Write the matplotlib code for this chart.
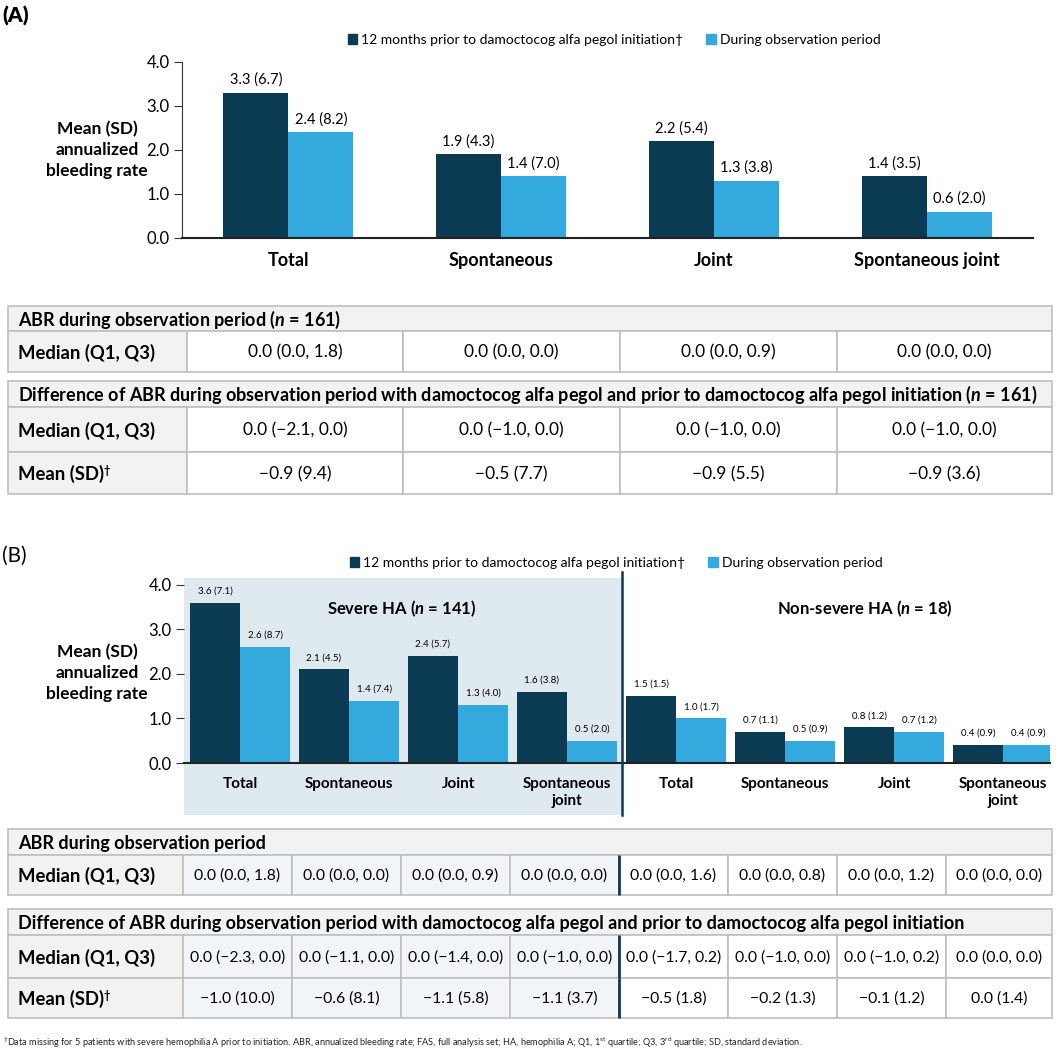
import matplotlib.pyplot as plt
from matplotlib.patches import Rectangle, Patch
import numpy as np

plt.rcParams['font.family'] = ['Lato', 'DejaVu Sans']
plt.rcParams['mathtext.fontset'] = 'custom'
plt.rcParams['mathtext.rm'] = 'Lato'
plt.rcParams['mathtext.it'] = 'Lato:italic:bold'

DARK = '#0b3b52'
LIGHT = '#33a9dd'
SHADE = '#dfe9f0'
LINE = '#bfbfbf'
HEAD = '#f2f2f2'
SEV = '#f1f5f8'

# ---- data: panel A
cats_a = ['Total', 'Spontaneous', 'Joint', 'Spontaneous joint']
prior_a = [3.3, 1.9, 2.2, 1.4]
prior_sd_a = [6.7, 4.3, 5.4, 3.5]
obs_a = [2.4, 1.4, 1.3, 0.6]
obs_sd_a = [8.2, 7.0, 3.8, 2.0]
median_a = ['0.0 (0.0, 1.8)', '0.0 (0.0, 0.0)', '0.0 (0.0, 0.9)', '0.0 (0.0, 0.0)']
diff_median_a = ['0.0 (−2.1, 0.0)', '0.0 (−1.0, 0.0)', '0.0 (−1.0, 0.0)', '0.0 (−1.0, 0.0)']
diff_mean_a = ['−0.9 (9.4)', '−0.5 (7.7)', '−0.9 (5.5)', '−0.9 (3.6)']

# ---- data: panel B (first 4 = severe, last 4 = non-severe)
cats_b = ['Total', 'Spontaneous', 'Joint', 'Spontaneous\njoint'] * 2
prior_b = [3.6, 2.1, 2.4, 1.6, 1.5, 0.7, 0.8, 0.4]
prior_sd_b = [7.1, 4.5, 5.7, 3.8, 1.5, 1.1, 1.2, 0.9]
obs_b = [2.6, 1.4, 1.3, 0.5, 1.0, 0.5, 0.7, 0.4]
obs_sd_b = [8.7, 7.4, 4.0, 2.0, 1.7, 0.9, 1.2, 0.9]
median_b = ['0.0 (0.0, 1.8)', '0.0 (0.0, 0.0)', '0.0 (0.0, 0.9)', '0.0 (0.0, 0.0)',
            '0.0 (0.0, 1.6)', '0.0 (0.0, 0.8)', '0.0 (0.0, 1.2)', '0.0 (0.0, 0.0)']
diff_median_b = ['0.0 (−2.3, 0.0)', '0.0 (−1.1, 0.0)', '0.0 (−1.4, 0.0)', '0.0 (−1.0, 0.0)',
                 '0.0 (−1.7, 0.2)', '0.0 (−1.0, 0.0)', '0.0 (−1.0, 0.2)', '0.0 (0.0, 0.0)']
diff_mean_b = ['−1.0 (10.0)', '−0.6 (8.1)', '−1.1 (5.8)', '−1.1 (3.7)',
               '−0.5 (1.8)', '−0.2 (1.3)', '−0.1 (1.2)', '0.0 (1.4)']

leg_labels = ['12 months prior to damoctocog alfa pegol initiation†', 'During observation period']
ylab = 'Mean (SD)\nannualized\nbleeding rate'

W, H = 1064, 1050
fig = plt.figure(figsize=(W / 100, H / 100), dpi=100)

# background axes in pixel coordinates for layout (tables, titles)
bg = fig.add_axes([0, 0, 1, 1])
bg.set_xlim(0, W)
bg.set_ylim(H, 0)
bg.axis('off')


def px_axes(left, top, right, bottom):
    ax = fig.add_axes([left / W, 1 - bottom / H, (right - left) / W, (bottom - top) / H])
    ax.patch.set_visible(False)
    return ax


def style_axis(ax, ylim):
    ax.set_ylim(*ylim)
    ax.set_yticks(np.arange(0, 5))
    ax.set_yticklabels([f'{v:.1f}' for v in range(5)], fontsize=12)
    ax.tick_params(axis='y', length=6, color='#333333', pad=3)
    ax.tick_params(axis='x', length=0)
    for s in ['top', 'right']:
        ax.spines[s].set_visible(False)
    ax.spines['bottom'].set_color('#222222')
    ax.spines['left'].set_color('#333333')
    ax.spines['bottom'].set_linewidth(1.5)


def legend_at(cx, cy):
    handles = [Patch(color=DARK), Patch(color=LIGHT)]
    fig.legend(handles, leg_labels, loc='center', bbox_to_anchor=(cx / W, 1 - cy / H),
               ncol=2, frameon=False, fontsize=10, handlelength=0.7, handleheight=0.7,
               handletextpad=0.3, columnspacing=1.6, borderpad=0)


def dagger_label(x, y, text, size):
    t = bg.text(x, y, text, fontsize=size, fontweight='bold', va='center', ha='left')
    bg.annotate('†', xy=(1, 1), xycoords=t, fontsize=size * 0.6, fontweight='bold',
                va='top', ha='left')


def table(top, header, head_h, rows, edges, fills, sep=None, vsize=12.5):
    x0, x1 = edges[0], edges[-1]
    bg.add_patch(Rectangle((x0, top), x1 - x0, head_h, fc=HEAD, ec=LINE, lw=1.2))
    bg.text(x0 + 10, top + head_h / 2 + 1, header, fontsize=13, fontweight='bold', va='center')
    y = top + head_h
    for label, vals, rh in rows:
        bg.add_patch(Rectangle((x0, y), edges[1] - x0, rh, fc=HEAD, ec=LINE, lw=1.2))
        if label.endswith('†'):
            dagger_label(x0 + 10, y + rh / 2 + 1, label[:-1], 13.3)
        else:
            bg.text(x0 + 10, y + rh / 2 + 1, label, fontsize=13.3, fontweight='bold', va='center')
        for i, v in enumerate(vals):
            a, b = edges[i + 1], edges[i + 2]
            bg.add_patch(Rectangle((a, y), b - a, rh, fc=fills[i], ec=LINE, lw=1.2))
            bg.text((a + b) / 2, y + rh / 2 + 1, v, fontsize=vsize, ha='center', va='center')
        if sep is not None:
            bg.plot([sep, sep], [y, y + rh], color=DARK, lw=2, solid_capstyle='butt')
        y += rh


# ================= Panel A =================
bg.text(2, 16, '(A)', fontsize=15, fontweight='heavy', va='center')
legend_at(614, 40)

axA = px_axes(182, 62, 1033, 238)
xa = np.arange(len(cats_a))
wa = 0.305
axA.bar(xa - wa / 2, prior_a, wa, color=DARK, zorder=2)
axA.bar(xa + wa / 2, obs_a, wa, color=LIGHT, zorder=2)
for i in range(len(cats_a)):
    axA.text(xa[i] - wa / 2, prior_a[i] + 0.13, f'{prior_a[i]:.1f} ({prior_sd_a[i]:.1f})',
             ha='center', va='bottom', fontsize=10.5)
    axA.text(xa[i] + wa / 2, obs_a[i] + 0.13, f'{obs_a[i]:.1f} ({obs_sd_a[i]:.1f})',
             ha='center', va='bottom', fontsize=10.5)
axA.set_xlim(-0.5, len(cats_a) - 0.5)
style_axis(axA, (0, 4))
axA.set_xticks(xa)
axA.set_xticklabels(cats_a, fontsize=13, fontweight='bold')
axA.tick_params(axis='x', pad=10)
bg.text(97, 150, ylab, fontsize=12.5, fontweight='bold', ha='center', va='center',
        multialignment='center', linespacing=1.35)

colA = [8, 187, 403, 620, 837, 1052]
table(306, 'ABR during observation period ($n$ = 161)', 25,
      [('Median (Q1, Q3)', median_a, 41)], colA, ['white'] * 4)
table(381, 'Difference of ABR during observation period with damoctocog alfa pegol and prior to '
      'damoctocog alfa pegol initiation ($n$ = 161)', 26,
      [('Median (Q1, Q3)', diff_median_a, 45), ('Mean (SD)†', diff_mean_a, 42)],
      colA, ['white'] * 4)

# ================= Panel B =================
bg.text(2, 556, '(B)', fontsize=15, va='center')
legend_at(616, 563)

axB = px_axes(184, 578, 1050, 763)
xb = np.arange(len(cats_b))
wb = 0.46
below = (815 - 763) / 185
axB.axvspan(-0.514, 3.5, ymin=-below, ymax=1, color=SHADE, zorder=0, clip_on=False, lw=0)
axB.axvline(3.5, ymin=-below, ymax=1 + 6 / 185, color=DARK, lw=1.8, clip_on=False, zorder=3)
axB.bar(xb - wb / 2, prior_b, wb, color=DARK, zorder=2)
axB.bar(xb + wb / 2, obs_b, wb, color=LIGHT, zorder=2)
for i in range(len(cats_b)):
    axB.text(xb[i] - wb / 2, prior_b[i] + 0.16, f'{prior_b[i]:.1f} ({prior_sd_b[i]:.1f})',
             ha='center', va='bottom', fontsize=7)
    axB.text(xb[i] + wb / 2, obs_b[i] + 0.16, f'{obs_b[i]:.1f} ({obs_sd_b[i]:.1f})',
             ha='center', va='bottom', fontsize=7)
axB.set_xlim(-0.514, 7.43)
style_axis(axB, (0, 4.15))
axB.spines['left'].set_visible(False)
axB.set_xticks(xb)
axB.set_xticklabels(cats_b, fontsize=11, fontweight='bold', linespacing=1.3)
axB.tick_params(axis='x', pad=10)
axB.text(402, 609, 'Severe HA ($n$ = 141)', fontsize=12, fontweight='bold', ha='center',
         va='center', transform=bg.transData, zorder=5)
axB.text(865, 609, 'Non-severe HA ($n$ = 18)', fontsize=12, fontweight='bold', ha='center',
         va='center', transform=bg.transData, zorder=5)
bg.text(97, 673, ylab, fontsize=12.5, fontweight='bold', ha='center', va='center',
        multialignment='center', linespacing=1.35)

colB = [8, 183, 292, 401, 510, 619, 728, 837, 946, 1052]
fillB = [SEV] * 4 + ['white'] * 4
table(829, 'ABR during observation period', 26,
      [('Median (Q1, Q3)', median_b, 40)], colB, fillB, sep=619, vsize=11.3)
table(909, 'Difference of ABR during observation period with damoctocog alfa pegol and prior to '
      'damoctocog alfa pegol initiation', 26,
      [('Median (Q1, Q3)', diff_median_b, 43), ('Mean (SD)†', diff_mean_b, 40)],
      colB, fillB, sep=619, vsize=11.3)

bg.text(3, 1043, '$^{†}$Data missing for 5 patients with severe hemophilia A prior to initiation. '
        'ABR, annualized bleeding rate; FAS, full analysis set; HA, hemophilia A; '
        'Q1, 1$^{\\mathrm{st}}$ quartile; Q3, 3$^{\\mathrm{rd}}$ quartile; SD, standard deviation.',
        fontsize=6.6, va='center', color='#222222')

fig.savefig('out.png', dpi=100)
